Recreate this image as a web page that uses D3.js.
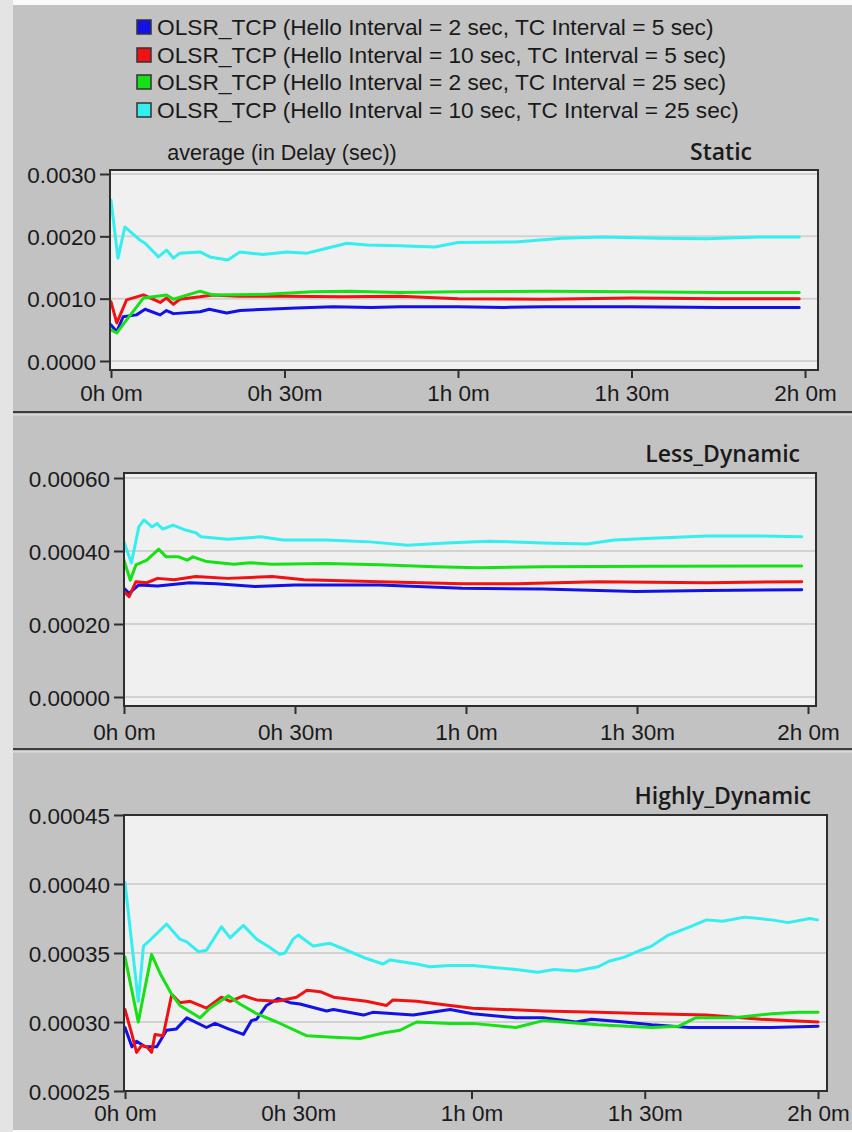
<!DOCTYPE html>
<html><head><meta charset="utf-8">
<script src="https://cdn.jsdelivr.net/npm/d3@7"></script>
<style>
html,body{margin:0;padding:0;background:#fff;}
svg{display:block;}
</style></head>
<body><svg id="chart" width="852" height="1132"></svg>
<script>
// ---------- Data ----------
const seriesNames = [
  "OLSR_TCP (Hello Interval = 2 sec, TC Interval = 5 sec)",
  "OLSR_TCP (Hello Interval = 10 sec, TC Interval = 5 sec)",
  "OLSR_TCP (Hello Interval = 2 sec, TC Interval = 25 sec)",
  "OLSR_TCP (Hello Interval = 10 sec, TC Interval = 25 sec)"
];
const seriesColors = ["#1212e6", "#f01212", "#16e016", "#34eef0"];
const panelTitles = ["Static", "Less_Dynamic", "Highly_Dynamic"];
const yAxisTitle = "average (in Delay (sec))";
const xTicks = [0, 30, 60, 90, 120]; // minutes
const yTicksStatic = [0, 0.001, 0.002, 0.003];
const yTicksLess = [0, 0.0002, 0.0004, 0.0006];
const yTicksHigh = [0.00025, 0.0003, 0.00035, 0.0004, 0.00045];

// [minute, delay] pairs — Static
const staticBlue = [[0,0.00058],[1.0,0.00047],[2.1,0.00071],[4.4,0.00074],[5.9,0.00083],[8.5,0.00074],[9.6,0.00081],[10.8,0.00076],[15.4,0.00079],[17,0.00083],[20,0.00077],[22.3,0.00081],[26.9,0.00083],[32,0.00085],[38.4,0.00087],[45,0.00086],[50,0.00087],[60,0.00087],[68,0.00086],[75,0.00087],[90,0.00087],[105,0.00086],[119,0.00086]];
const staticRed = [[0,0.00095],[1.0,0.00061],[2.7,0.00098],[5.6,0.00106],[8.5,0.00094],[9.6,0.00101],[10.8,0.00091],[11.9,0.00099],[15.4,0.00103],[17.6,0.00106],[22,0.00104],[30,0.00104],[40,0.00103],[50,0.00104],[60,0.001],[75,0.00099],[90,0.00101],[105,0.001],[119,0.001]];
const staticGreen = [[0,0.0005],[1.0,0.00045],[2.7,0.00066],[5.6,0.00101],[9.6,0.00106],[10.8,0.00099],[15.4,0.00112],[17.6,0.00106],[26.9,0.00107],[34.9,0.00111],[41.3,0.00112],[50,0.0011],[60,0.00111],[75,0.00112],[90,0.00111],[105,0.0011],[119,0.0011]];
const staticCyan = [[0,0.00258],[1.2,0.00165],[2.4,0.00215],[5.0,0.00194],[5.9,0.00189],[8.2,0.00167],[9.6,0.00178],[10.8,0.00165],[11.9,0.00173],[15.4,0.00175],[17.1,0.00167],[20.2,0.00162],[22.3,0.00175],[26.3,0.00171],[30.4,0.00175],[33.9,0.00173],[36.1,0.00178],[40.8,0.00189],[44.3,0.00186],[50,0.00185],[56,0.00183],[60,0.0019],[70,0.00191],[78,0.00197],[85,0.00199],[95,0.00197],[103,0.00196],[112,0.00199],[119,0.00199]];

// Less_Dynamic
const lessBlue = [[0,0.000298],[0.9,0.000284],[2.6,0.000307],[5.9,0.000304],[11.5,0.000313],[16.2,0.00031],[23,0.000303],[30,0.000307],[44.9,0.000307],[59.3,0.000298],[73.5,0.000296],[89.8,0.000289],[102.3,0.000292],[118.9,0.000294]];
const lessRed = [[0,0.000289],[0.9,0.000275],[2.1,0.000316],[4,0.000313],[5.9,0.000325],[8.8,0.000321],[12.6,0.00033],[18.2,0.000325],[26,0.00033],[31.6,0.000321],[44.9,0.000316],[59.3,0.00031],[68.8,0.00031],[83.1,0.000316],[102.3,0.000313],[118.9,0.000316]];
const lessGreen = [[0,0.000375],[1.1,0.00032],[2.1,0.000362],[4.0,0.000375],[6.1,0.000405],[7.4,0.000384],[9.6,0.000384],[11.1,0.000375],[12.1,0.000384],[14.5,0.000371],[19.3,0.000364],[22.1,0.000368],[26,0.000364],[35.4,0.000366],[44.9,0.000362],[54.5,0.000357],[62.1,0.000354],[73.5,0.000357],[92.6,0.000358],[118.9,0.000359]];
const lessCyan = [[0,0.000425],[1.3,0.000367],[2.6,0.000466],[3.5,0.000485],[4.9,0.000466],[5.8,0.000475],[6.8,0.00046],[8.6,0.000471],[10.7,0.000458],[12.6,0.00045],[13.5,0.000439],[18.2,0.000432],[24,0.000439],[27.9,0.00043],[35.4,0.00043],[43.2,0.000425],[49.8,0.000416],[56.5,0.000422],[64,0.000427],[73.5,0.000422],[81.2,0.000419],[86,0.00043],[92.6,0.000435],[102.3,0.000441],[111.7,0.000441],[118.9,0.000439]];

// Highly_Dynamic
const highBlue = [[0,0.000296],[1.2,0.000282],[2.0,0.000286],[3.5,0.000282],[5.5,0.000282],[7.2,0.000294],[8.9,0.000295],[10.7,0.000303],[14.1,0.000296],[15.6,0.000299],[17.9,0.000295],[20.5,0.000291],[21.9,0.000301],[22.8,0.000302],[24.5,0.000312],[26.5,0.000317],[28.6,0.000314],[30.3,0.000313],[34.9,0.000308],[36.1,0.000309],[41.3,0.000305],[42.9,0.000307],[49.9,0.000305],[56.3,0.000309],[60.2,0.000306],[67.7,0.000303],[72.4,0.000303],[78.1,0.0003],[80.8,0.000302],[86.5,0.0003],[91.2,0.000298],[97.8,0.000296],[105.4,0.000296],[112,0.000296],[120,0.000297]];
const highRed = [[0,0.000309],[1.2,0.000291],[2.0,0.000278],[2.9,0.000283],[3.8,0.000282],[4.6,0.000278],[5.2,0.000291],[6.6,0.00029],[8.1,0.00032],[9.5,0.000314],[11.3,0.000315],[14.1,0.00031],[16.7,0.000318],[18.2,0.000315],[20.5,0.000319],[22.8,0.000316],[26.3,0.000315],[29.7,0.000318],[31.5,0.000323],[33.8,0.000322],[36.1,0.000318],[41.8,0.000315],[45.3,0.000312],[46.4,0.000316],[50.5,0.000315],[56.3,0.000312],[60.2,0.00031],[72.4,0.000308],[81.9,0.000307],[91.2,0.000306],[100.7,0.000305],[110.1,0.000302],[120,0.0003]];
const highGreen = [[0,0.000347],[2.3,0.0003],[4.6,0.000349],[6.1,0.000335],[8.1,0.00032],[9.5,0.000312],[13,0.000303],[14.7,0.00031],[17.9,0.000319],[19.9,0.000313],[22.8,0.000306],[26.3,0.0003],[31.5,0.00029],[36.1,0.000289],[40.7,0.000288],[44.7,0.000292],[47.6,0.000294],[50.5,0.0003],[56.3,0.000299],[60.2,0.000299],[67.7,0.000296],[72.4,0.000301],[81.9,0.000298],[91.2,0.000296],[95.9,0.000297],[98.8,0.000303],[105.4,0.000303],[112,0.000306],[116.5,0.000307],[120,0.000307]];
const highCyan = [[0,0.000401],[2.3,0.000315],[3.2,0.000355],[4.0,0.000358],[7.2,0.000371],[9.5,0.00036],[10.7,0.000358],[12.7,0.000351],[14.1,0.000352],[16.7,0.000369],[18.2,0.000361],[20.5,0.00037],[22.8,0.00036],[25.1,0.000354],[26.8,0.000349],[27.7,0.00035],[29.1,0.00036],[30,0.000363],[32.6,0.000355],[35.5,0.000357],[38.4,0.000352],[41.8,0.000346],[44.7,0.000342],[45.9,0.000345],[50.5,0.000342],[52.8,0.00034],[56.3,0.000341],[60.2,0.000341],[67.7,0.000338],[71.5,0.000336],[74.3,0.000338],[78.1,0.000337],[81.9,0.00034],[83.8,0.000344],[86.5,0.000347],[89.3,0.000352],[91.2,0.000355],[94.1,0.000363],[97.8,0.000369],[100.7,0.000374],[103.5,0.000373],[107.3,0.000376],[112,0.000374],[114.8,0.000372],[118.6,0.000375],[119.9,0.000374]];

// ---------- Drawing ----------
const svg = d3.select("#chart");
const FONT = "'Liberation Sans', Arial, sans-serif";
const TITLEFONT = "'Open Sans', 'Noto Sans', sans-serif";

svg.append("rect").attr("x",0).attr("y",0).attr("width",852).attr("height",1132).attr("fill","#fafafa");
svg.append("rect").attr("x",0).attr("y",0).attr("width",13).attr("height",1132).attr("fill","#e4e4e4");

const panels = [
  {bg:[5,411], frame:{l:110,t:170,r:818,b:370}, xr:[111,805], yd:[0,0.003], yr:[361,174], yTicks:yTicksStatic, fmt:d3.format(".4f"),
   title:panelTitles[0], titleX:752, titleY:152, xLabY:393, series:[staticBlue,staticRed,staticGreen,staticCyan]},
  {bg:[415,749], frame:{l:124,t:473,r:816,b:706}, xr:[124,808], yd:[0,0.0006], yr:[697,478], yTicks:yTicksLess, fmt:d3.format(".5f"),
   title:panelTitles[1], titleX:800, titleY:454, xLabY:732, series:[lessBlue,lessRed,lessGreen,lessCyan]},
  {bg:[752,1130], frame:{l:124,t:815,r:827,b:1091}, xr:[125,818], yd:[0.00025,0.00045], yr:[1091,815], yTicks:yTicksHigh, fmt:d3.format(".5f"),
   title:panelTitles[2], titleX:811, titleY:796, xLabY:1113, series:[highBlue,highRed,highGreen,highCyan]}
];

panels.forEach((p,i)=>{
  const g = svg.append("g");
  g.append("rect").attr("x",13).attr("y",p.bg[0]).attr("width",852-13).attr("height",p.bg[1]-p.bg[0]).attr("fill","#c2c2c2");
  if(i>0){
    g.append("rect").attr("x",13).attr("y",p.bg[0]-4).attr("width",852-13).attr("height",2.5).attr("fill","#3c3c3c");
    g.append("rect").attr("x",13).attr("y",p.bg[0]-1.5).attr("width",852-13).attr("height",2).attr("fill","#dadada");
  }
  const f = p.frame;
  const x = d3.scaleLinear().domain([0,120]).range(p.xr);
  const y = d3.scaleLinear().domain(p.yd).range(p.yr);

  g.append("rect").attr("x",f.l).attr("y",f.t).attr("width",f.r-f.l).attr("height",f.b-f.t).attr("fill","#f0f0f0");
  g.selectAll(".grid").data(p.yTicks.filter(v=>y(v)>f.t+2 && y(v)<f.b-2)).enter().append("line")
    .attr("x1",f.l).attr("x2",f.r).attr("y1",d=>y(d)).attr("y2",d=>y(d))
    .attr("stroke","#d2d2d2").attr("stroke-width",2);

  const clipId = "clip"+i;
  svg.append("clipPath").attr("id",clipId).append("rect").attr("x",f.l).attr("y",f.t).attr("width",f.r-f.l).attr("height",f.b-f.t);
  const line = d3.line().x(d=>x(d[0])).y(d=>y(d[1]));
  const lg = g.append("g").attr("clip-path",`url(#${clipId})`);
  p.series.forEach((s,k)=>{
    lg.append("path").attr("d",line(s)).attr("fill","none").attr("stroke",seriesColors[k])
      .attr("stroke-width",3).attr("stroke-linejoin","round").attr("stroke-linecap","round");
  });

  g.append("rect").attr("x",f.l).attr("y",f.t).attr("width",f.r-f.l).attr("height",f.b-f.t)
    .attr("fill","none").attr("stroke","#2e2e2e").attr("stroke-width",2);

  const ya = g.append("g").attr("transform",`translate(${f.l},0)`)
    .call(d3.axisLeft(y).tickValues(p.yTicks).tickFormat(p.fmt).tickSize(10).tickSizeOuter(0));
  ya.select(".domain").remove();
  ya.selectAll(".tick line").attr("stroke","#2e2e2e").attr("stroke-width",2);
  ya.selectAll(".tick text").attr("font-family",FONT).attr("font-size",22.5).attr("fill","#1a1a1a").attr("x",-14).attr("dy","0.36em");

  const xa = g.append("g").attr("transform",`translate(0,${f.b})`)
    .call(d3.axisBottom(x).tickValues(xTicks).tickFormat(m=>`${Math.floor(m/60)}h ${m%60}m`).tickSize(8).tickSizeOuter(0));
  xa.select(".domain").remove();
  xa.selectAll(".tick line").attr("stroke","#2e2e2e").attr("stroke-width",2);
  xa.selectAll(".tick text").attr("font-family",FONT).attr("font-size",22.5).attr("fill","#1a1a1a")
    .attr("y",p.xLabY-f.b).attr("dy","0.36em");

  g.append("text").attr("x",p.titleX).attr("y",p.titleY).attr("dy","0.36em").attr("text-anchor","end")
    .attr("font-family",TITLEFONT).attr("font-weight",600).attr("font-size",23).attr("fill","#1a1a1a").text(p.title);
});

svg.append("text").attr("x",282).attr("y",152).attr("dy","0.36em").attr("text-anchor","middle")
  .attr("font-family",FONT).attr("font-size",21.5).attr("fill","#1a1a1a").text(yAxisTitle);

const legRows = [27, 55, 82, 110];
const leg = svg.append("g");
seriesNames.forEach((n,k)=>{
  leg.append("rect").attr("x",137).attr("y",legRows[k]-7).attr("width",14).attr("height",14)
    .attr("fill",seriesColors[k]).attr("stroke","#333").attr("stroke-width",1.5);
  leg.append("text").attr("x",157).attr("y",legRows[k]).attr("dy","0.36em")
    .attr("font-family",FONT).attr("font-size",22.7).attr("fill","#1a1a1a").text(n);
});
</script></body></html>
